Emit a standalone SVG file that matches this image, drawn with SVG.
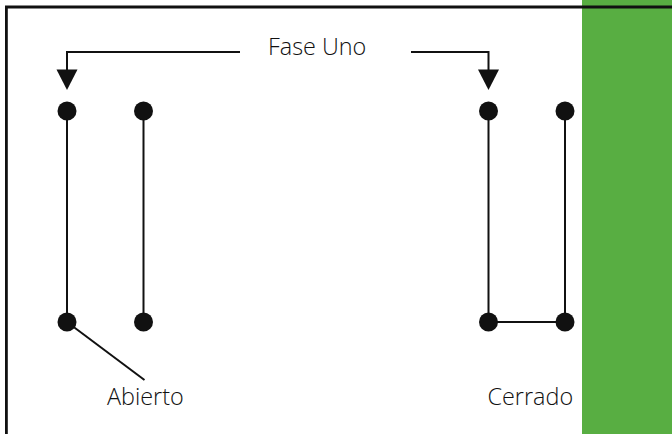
<svg xmlns="http://www.w3.org/2000/svg" width="672" height="434" viewBox="0 0 672 434">
<style>
.l{fill:none;stroke:#111;stroke-width:2}
.h{fill:#111}
.d{fill:#111}
text{font-family:"Open Sans","Noto Sans",sans-serif;font-size:23.400px;font-weight:300;fill:#111}
</style>
<rect width="672" height="434" fill="#fff"/>
<rect id="panel" x="582" y="0" width="90" height="434" fill="#58ae42"/>
<path id="frame" d="M6.400 434V7H672" fill="none" stroke="#111" stroke-width="2.800"/>
<g id="connectors">
<path class="l" d="M240 52H67V72"/>
<path class="h" d="M56.500 69.500H77.500L67 90Z"/>
<path class="l" d="M411 52H488.500V72"/>
<path class="h" d="M478 69.500H499L488.500 90Z"/>
<path class="l" d="M67 111V322"/>
<path class="l" d="M143.500 111V322"/>
<path class="l" d="M488.500 111V322H565V111"/>
<path class="l" d="M67 322L144.500 380"/>
</g>
<g id="node-a1"><circle class="d" cx="67" cy="111" r="9.500"/></g>
<g id="node-a2"><circle class="d" cx="143.500" cy="111" r="9.500"/></g>
<g id="node-a3"><circle class="d" cx="67" cy="322" r="9.500"/></g>
<g id="node-a4"><circle class="d" cx="143.500" cy="322" r="9.500"/></g>
<g id="node-c1"><circle class="d" cx="488.500" cy="111" r="9.500"/></g>
<g id="node-c2"><circle class="d" cx="565" cy="111" r="9.500"/></g>
<g id="node-c3"><circle class="d" cx="488.500" cy="322" r="9.500"/></g>
<g id="node-c4"><circle class="d" cx="565" cy="322" r="9.500"/></g>
<g id="label-fase"><text x="268" y="55">Fase Uno</text></g>
<g id="label-abierto"><text x="107" y="405">Abierto</text></g>
<g id="label-cerrado"><text x="487.500" y="405">Cerrado</text></g>
</svg>
